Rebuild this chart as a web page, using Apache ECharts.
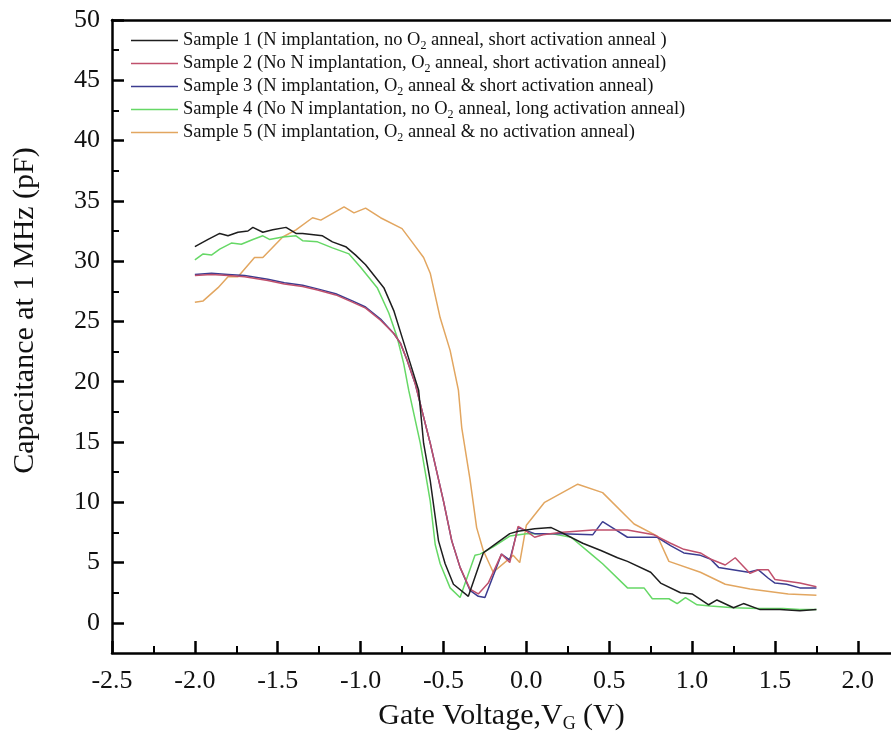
<!DOCTYPE html>
<html>
<head>
<meta charset="utf-8">
<script src="https://cdn.jsdelivr.net/npm/echarts@6/dist/echarts.min.js"></script>
<style>
html,body{margin:0;padding:0;background:#fff;}
#chart{width:891px;height:746px;}
</style>
</head>
<body>
<div id="chart"></div>
<script>
// ---- data ----
const sampleNames = [
  'Sample 1 (N implantation, no O2 anneal, short activation anneal )',
  'Sample 2 (No N implantation, O2 anneal, short activation anneal)',
  'Sample 3 (N implantation, O2 anneal & short activation anneal)',
  'Sample 4 (No N implantation, no O2 anneal, long activation anneal)',
  'Sample 5 (N implantation, O2 anneal & no activation anneal)'
];

const s1X = [-2.0,-1.92,-1.85,-1.8,-1.74,-1.68,-1.65,-1.59,-1.53,-1.45,-1.39,-1.35,-1.23,-1.17,-1.09,-1.03,-0.97,-0.86,-0.8,-0.75,-0.7,-0.65,-0.62,-0.58,-0.53,-0.49,-0.44,-0.35,-0.26,-0.2,-0.1,-0.05,0.05,0.15,0.21,0.34,0.45,0.55,0.61,0.75,0.81,0.93,1.0,1.1,1.15,1.25,1.31,1.41,1.53,1.65,1.75];
const s1Y = [31.2,31.8,32.3,32.1,32.4,32.5,32.8,32.4,32.6,32.8,32.3,32.3,32.1,31.6,31.2,30.5,29.7,27.8,25.9,23.7,21.5,19.3,14.9,11.8,6.8,4.9,3.2,2.2,5.8,6.4,7.4,7.6,7.8,7.9,7.5,6.6,6.0,5.4,5.1,4.2,3.3,2.5,2.4,1.5,1.9,1.25,1.6,1.1,1.1,1.0,1.1];

const s2X = [-2.0,-1.9,-1.8,-1.7,-1.56,-1.46,-1.35,-1.26,-1.15,-1.05,-0.97,-0.88,-0.8,-0.76,-0.72,-0.67,-0.58,-0.5,-0.45,-0.4,-0.34,-0.29,-0.23,-0.15,-0.1,-0.05,0.0,0.05,0.1,0.2,0.4,0.61,0.77,0.87,0.95,1.05,1.11,1.2,1.26,1.35,1.4,1.46,1.5,1.65,1.75];
const s2Y = [28.8,28.9,28.8,28.7,28.4,28.1,27.9,27.6,27.2,26.6,26.1,25.1,24.0,23.2,21.8,19.8,14.9,10.1,6.8,4.6,2.8,2.4,3.3,5.7,5.0,8.0,7.6,7.1,7.3,7.5,7.7,7.7,7.3,6.6,6.1,5.8,5.3,4.8,5.4,4.1,4.4,4.4,3.6,3.3,3.0];

const s3X = [-2.0,-1.9,-1.8,-1.7,-1.56,-1.46,-1.35,-1.26,-1.15,-1.05,-0.97,-0.88,-0.8,-0.76,-0.72,-0.67,-0.58,-0.5,-0.45,-0.4,-0.34,-0.29,-0.25,-0.15,-0.1,-0.05,0.05,0.21,0.4,0.46,0.53,0.61,0.79,0.87,0.95,1.05,1.11,1.16,1.34,1.4,1.46,1.5,1.57,1.65,1.75];
const s3Y = [28.9,29.0,28.9,28.8,28.5,28.2,28.0,27.7,27.3,26.7,26.2,25.2,24.0,23.2,21.8,19.8,14.9,10.1,6.8,4.6,2.7,2.2,2.1,5.7,5.2,7.9,7.4,7.4,7.3,8.4,7.8,7.1,7.1,6.4,5.8,5.6,5.3,4.6,4.2,4.4,3.7,3.3,3.2,2.9,2.9];

const s4X = [-2.0,-1.95,-1.9,-1.85,-1.78,-1.72,-1.65,-1.59,-1.55,-1.47,-1.39,-1.35,-1.26,-1.17,-1.07,-1.0,-0.9,-0.83,-0.78,-0.74,-0.71,-0.64,-0.58,-0.55,-0.52,-0.46,-0.4,-0.31,-0.28,-0.2,-0.1,0.0,0.15,0.27,0.4,0.46,0.61,0.71,0.76,0.86,0.91,0.96,1.03,1.11,1.25,1.4,1.55,1.65,1.75];
const s4Y = [30.1,30.6,30.5,31.0,31.5,31.4,31.8,32.1,31.8,32.0,32.1,31.7,31.6,31.1,30.6,29.5,27.8,25.7,23.7,21.5,19.3,14.9,10.1,6.5,4.9,2.9,2.1,5.6,5.7,6.3,7.2,7.4,7.4,7.1,5.6,4.9,2.9,2.9,2.0,2.0,1.6,2.1,1.5,1.4,1.25,1.2,1.2,1.1,1.1];

const s5X = [-2.0,-1.95,-1.86,-1.8,-1.74,-1.64,-1.59,-1.47,-1.39,-1.29,-1.24,-1.1,-1.04,-0.97,-0.88,-0.75,-0.69,-0.62,-0.58,-0.52,-0.46,-0.41,-0.39,-0.34,-0.3,-0.26,-0.2,-0.08,-0.04,0.0,0.11,0.31,0.46,0.65,0.79,0.86,1.05,1.2,1.35,1.58,1.75];
const s5Y = [26.6,26.7,27.8,28.7,28.7,30.3,30.3,32.0,32.6,33.6,33.4,34.5,34.0,34.4,33.6,32.7,31.6,30.3,29.0,25.3,22.6,19.3,16.2,11.9,7.9,6.0,4.2,5.6,5.0,8.1,10.0,11.5,10.8,8.2,7.2,5.1,4.2,3.2,2.8,2.4,2.3];

const xMajorTicks = [-2.5,-2.0,-1.5,-1.0,-0.5,0.0,0.5,1.0,1.5,2.0];
const xMinorTicks = [-2.25,-1.75,-1.25,-0.75,-0.25,0.25,0.75,1.25,1.75];
const yMajorTicks = [0,5,10,15,20,25,30,35,40,45,50];
const yMinorTicks = [2.5,7.5,12.5,17.5,22.5,27.5,32.5,37.5,42.5,47.5];
const xAxisName = 'Gate Voltage,V{sub|G} (V)';
const yAxisName = 'Capacitance at 1 MHz (pF)';

// ---- chart ----
const FONT = '"Liberation Serif", "Times New Roman", serif';
const colors = ['#1e1e1e', '#c0506c', '#3c3c90', '#66d866', '#e2a660'];
const xs = [s1X, s2X, s3X, s4X, s5X];
const ys = [s1Y, s2Y, s3Y, s4Y, s5Y];

const series = sampleNames.map((name, i) => ({
  name: name,
  type: 'line',
  data: xs[i].map((x, j) => [x, ys[i][j]]),
  symbol: 'none',
  showSymbol: false,
  lineStyle: { color: colors[i], width: 1.5 },
  itemStyle: { color: colors[i] },
  z: 10 - i
}));

const axisLineStyle = { color: '#000', width: 2.5 };
const X_MIN = -2.5, X_MAX = 2.2, Y_MIN = -2.5, Y_MAX = 50;

const chart = echarts.init(document.getElementById('chart'), null, { renderer: 'canvas' });
chart.setOption({
  animation: false,
  backgroundColor: '#fff',
  grid: { left: 112, top: 20, right: 0, bottom: 93, containLabel: false },
  legend: {
    orient: 'vertical',
    left: 126,
    top: 24,
    icon: 'rect',
    itemWidth: 47,
    itemHeight: 1.5,
    itemGap: 0,
    data: sampleNames,
    formatter: (name) => name.replace('O2', 'O{sub|2}'),
    textStyle: {
      fontFamily: FONT, fontSize: 18.5, color: '#111', lineHeight: 23,
      rich: { sub: { fontFamily: FONT, fontSize: 12, color: '#111', verticalAlign: 'bottom', lineHeight: 12 } }
    }
  },
  xAxis: [{
    type: 'value', min: X_MIN, max: X_MAX,
    position: 'bottom',
    axisLine: { show: true, onZero: false, lineStyle: axisLineStyle },
    axisTick: { show: true, inside: true, length: 12, customValues: xMajorTicks, lineStyle: { color: '#000', width: 2.5 } },
    splitLine: { show: false },
    axisLabel: { fontFamily: FONT, fontSize: 26, color: '#111', margin: 15, customValues: xMajorTicks, formatter: v => v.toFixed(1) },
    name: xAxisName,
    nameLocation: 'middle',
    nameGap: 42,
    nameTextStyle: {
      fontFamily: FONT, fontSize: 30, color: '#111', lineHeight: 34,
      rich: { sub: { fontFamily: FONT, fontSize: 18, color: '#111', verticalAlign: 'bottom', lineHeight: 12 } }
    }
  }, {
    type: 'value', min: X_MIN, max: X_MAX, position: 'bottom',
    axisLine: { show: false, onZero: false },
    axisTick: { show: true, inside: true, length: 7, customValues: xMinorTicks, lineStyle: { color: '#000', width: 2 } },
    axisLabel: { show: false }, splitLine: { show: false }
  }, {
    type: 'value', min: X_MIN, max: X_MAX, position: 'top',
    axisLine: { show: true, onZero: false, lineStyle: axisLineStyle },
    axisTick: { show: false }, axisLabel: { show: false }, splitLine: { show: false }
  }],
  yAxis: [{
    type: 'value', min: Y_MIN, max: Y_MAX,
    position: 'left',
    axisLine: { show: true, onZero: false, lineStyle: axisLineStyle },
    axisTick: { show: true, inside: true, length: 7, customValues: yMinorTicks, lineStyle: { color: '#000', width: 2 } },
    splitLine: { show: false },
    axisLabel: { fontFamily: FONT, fontSize: 26, color: '#111', margin: 12, customValues: yMajorTicks },
    name: yAxisName,
    nameLocation: 'middle',
    nameGap: 72,
    nameRotate: 90,
    nameTextStyle: { fontFamily: FONT, fontSize: 30, color: '#111', padding: [0, 0, 0, 52] }
  }, {
    type: 'value', min: Y_MIN, max: Y_MAX,
    position: 'left',
    axisLine: { show: false, onZero: false },
    axisTick: { show: true, inside: true, length: 12, customValues: yMajorTicks, lineStyle: { color: '#000', width: 2.5 } },
    axisLabel: { show: false },
    splitLine: { show: false }
  }],
  series: series
});
</script>
</body>
</html>
